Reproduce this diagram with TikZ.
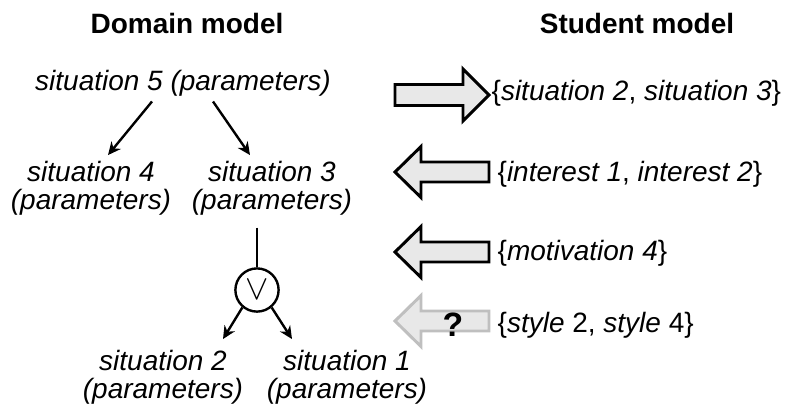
\documentclass[tikz,border=0pt]{standalone}
\usepackage{fontspec}
\setmainfont{Liberation Sans}
\usetikzlibrary{arrows.meta,calc}

\begin{document}
\begin{tikzpicture}[
  x=0.025cm, y=-0.025cm,
  >={Stealth[length=3.2mm, width=3mm]},
  txt/.style={inner sep=1pt, font=\fontsize{19.9}{19.9}\selectfont\itshape, align=center},
  head/.style={inner sep=1pt, font=\fontsize{19.9}{19.9}\selectfont\bfseries},
  lbl/.style={inner sep=1pt, font=\fontsize{19.9}{19.9}\selectfont, anchor=base west},
  tree/.style={line width=1.7pt},
  fatarrow/.style={draw=black, fill=gray!18, line width=2.1pt, line join=miter},
  fuzzyarrow/.style={draw=gray!50, fill=gray!18, line width=2.1pt, line join=miter}
]
\useasboundingbox (0,0) rectangle (791,410);

% Headings
\node[head, anchor=base] (dom) at (187,33) {Domain model};
\node[head, anchor=base] (stu) at (637,33) {Student model};

% Domain model tree
\node[txt, anchor=base] (s5) at (183,90) {situation 5 (parameters)};
\node[txt, anchor=base] (s4) at (91,209) {situation 4\\(parameters)};
\node[txt, anchor=base] (s3) at (272,209) {situation 3\\(parameters)};
\node[draw, circle, tree, minimum size=1.08cm, inner sep=0pt] (or) at (257,290) {\fontsize{23}{23}\selectfont$\vee$};
\node[txt, anchor=base] (s2) at (163,398) {situation 2\\(parameters)};
\node[txt, anchor=base] (s1) at (347,398) {situation 1\\(parameters)};

\draw[tree, ->] ($(s5.south)+(-31,4)$) -- ($(s4.north)+(17,-4)$);
\draw[tree, ->] ($(s5.south)+(30,4)$) -- ($(s3.north)+(-22,-4)$);
\draw[tree] ($(s3.south)+(-15,11)$) -- (or);
\draw[tree, ->] (or.230) -- ($(s2.north)+(60,-9)$);
\draw[tree, ->] (or.310) -- ($(s1.north)+(-55,-9)$);

% Domain -> Student
\draw[fatarrow] (395,84.5) -- (463,84.5) -- (463,69) -- (489,95) -- (463,121) -- (463,105.5) -- (395,105.5) -- cycle;

% Student -> Domain
\foreach \y/\sty in {172/fatarrow, 252/fatarrow, 321/fuzzyarrow}{
  \draw[\sty] (395,\y) -- (421,\y-25.5) -- (421,\y-10) -- (489,\y-10) -- (489,\y+10) -- (421,\y+10) -- (421,\y+25.5) -- cycle;
}
\node[font=\fontsize{24}{24}\selectfont\bfseries, anchor=base, inner sep=0pt] (q) at (453,336) {?};

% Student model labels
\node[lbl] (sit) at (490,100) {\{\textit{situation 2}, \textit{situation 3}\}};
\node[lbl] (int) at (496,181) {\{\textit{interest 1}, \textit{interest 2}\}};
\node[lbl] (mot) at (496,260) {\{\textit{motivation 4}\}};
\node[lbl] (sty) at (496,332) {\{\textit{style} 2, \textit{style} 4\}};

\end{tikzpicture}
\end{document}
